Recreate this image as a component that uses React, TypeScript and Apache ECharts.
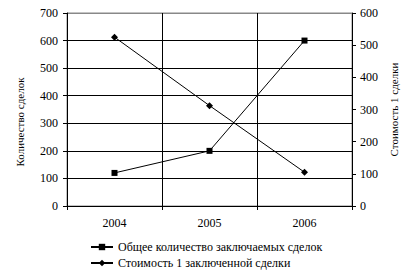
import React, { useEffect, useRef } from "react";
import * as echarts from "echarts";

const years = ["2004", "2005", "2006"];
const dealsCount = [120, 200, 600];
const dealCost = [525, 312, 105];
const seriesNames = ["Общее количество заключаемых сделок", "Стоимость 1 заключенной сделки"];
const leftAxisName = "Количество сделок";
const rightAxisName = "Стоимость 1 сделки";

const FONT = "Liberation Serif";

export default function App() {
  const ref = useRef<HTMLDivElement>(null);
  useEffect(() => {
    if (!ref.current) return;
    const chart = echarts.init(ref.current, undefined, { renderer: "svg" });
    chart.setOption({
      animation: false,
      backgroundColor: "#fff",
      textStyle: { fontFamily: FONT, color: "#000" },
      grid: { left: 67, right: 67, top: 13, bottom: 70, show: true, borderColor: "#888", borderWidth: 1 },
      legend: {
        orient: "vertical",
        left: 85,
        top: 236,
        itemGap: 4,
        itemWidth: 22,
        itemHeight: 8,
        textStyle: { fontFamily: FONT, fontSize: 12, color: "#000" },
        data: seriesNames,
      },
      graphic: [
        {
          type: "text",
          x: 20,
          y: 122,
          rotation: Math.PI / 2,
          style: {
            text: leftAxisName,
            fill: "#000",
            font: `11px "${FONT}"`,
            align: "center",
            verticalAlign: "middle",
          },
        },
      ],
      xAxis: {
        type: "category",
        data: years,
        boundaryGap: true,
        axisLine: { lineStyle: { color: "#000" } },
        axisTick: { show: true, length: 4, lineStyle: { color: "#000" } },
        axisLabel: { color: "#000", fontSize: 12, fontFamily: FONT, margin: 11 },
        splitLine: { show: true, lineStyle: { color: "#000" } },
      },
      yAxis: [
        {
          type: "value",
          min: 0,
          max: 700,
          interval: 100,
          axisLine: { show: true, lineStyle: { color: "#000" } },
          axisTick: { show: true, length: 4, lineStyle: { color: "#000" } },
          axisLabel: { color: "#000", fontSize: 12, fontFamily: FONT, margin: 9 },
          splitLine: {
            show: true,
            lineStyle: { color: ["#000", "#000", "#000", "#000", "#000", "#000", "#000", "#888"] },
          },
        },
        {
          type: "value",
          min: 0,
          max: 600,
          interval: 100,
          position: "right",
          name: rightAxisName,
          nameLocation: "middle",
          nameRotate: 90,
          nameGap: 29,
          nameTextStyle: { fontFamily: FONT, fontSize: 11, color: "#000" },
          axisLine: { show: true, lineStyle: { color: "#000" } },
          axisTick: { show: true, length: 4, lineStyle: { color: "#000" } },
          axisLabel: { color: "#000", fontSize: 12, fontFamily: FONT, margin: 8 },
          splitLine: { show: false },
        },
      ],
      series: [
        {
          name: seriesNames[0],
          type: "line",
          yAxisIndex: 0,
          data: dealsCount,
          symbol: "rect",
          symbolSize: 6,
          lineStyle: { color: "#000", width: 1 },
          itemStyle: { color: "#000" },
        },
        {
          name: seriesNames[1],
          type: "line",
          yAxisIndex: 1,
          data: dealCost,
          symbol: "diamond",
          symbolSize: 7,
          lineStyle: { color: "#000", width: 1 },
          itemStyle: { color: "#000" },
        },
      ],
    });
    return () => chart.dispose();
  }, []);
  return <div ref={ref} style={{ width: 419, height: 276, position: "absolute", left: 0, top: 0 }} />;
}
